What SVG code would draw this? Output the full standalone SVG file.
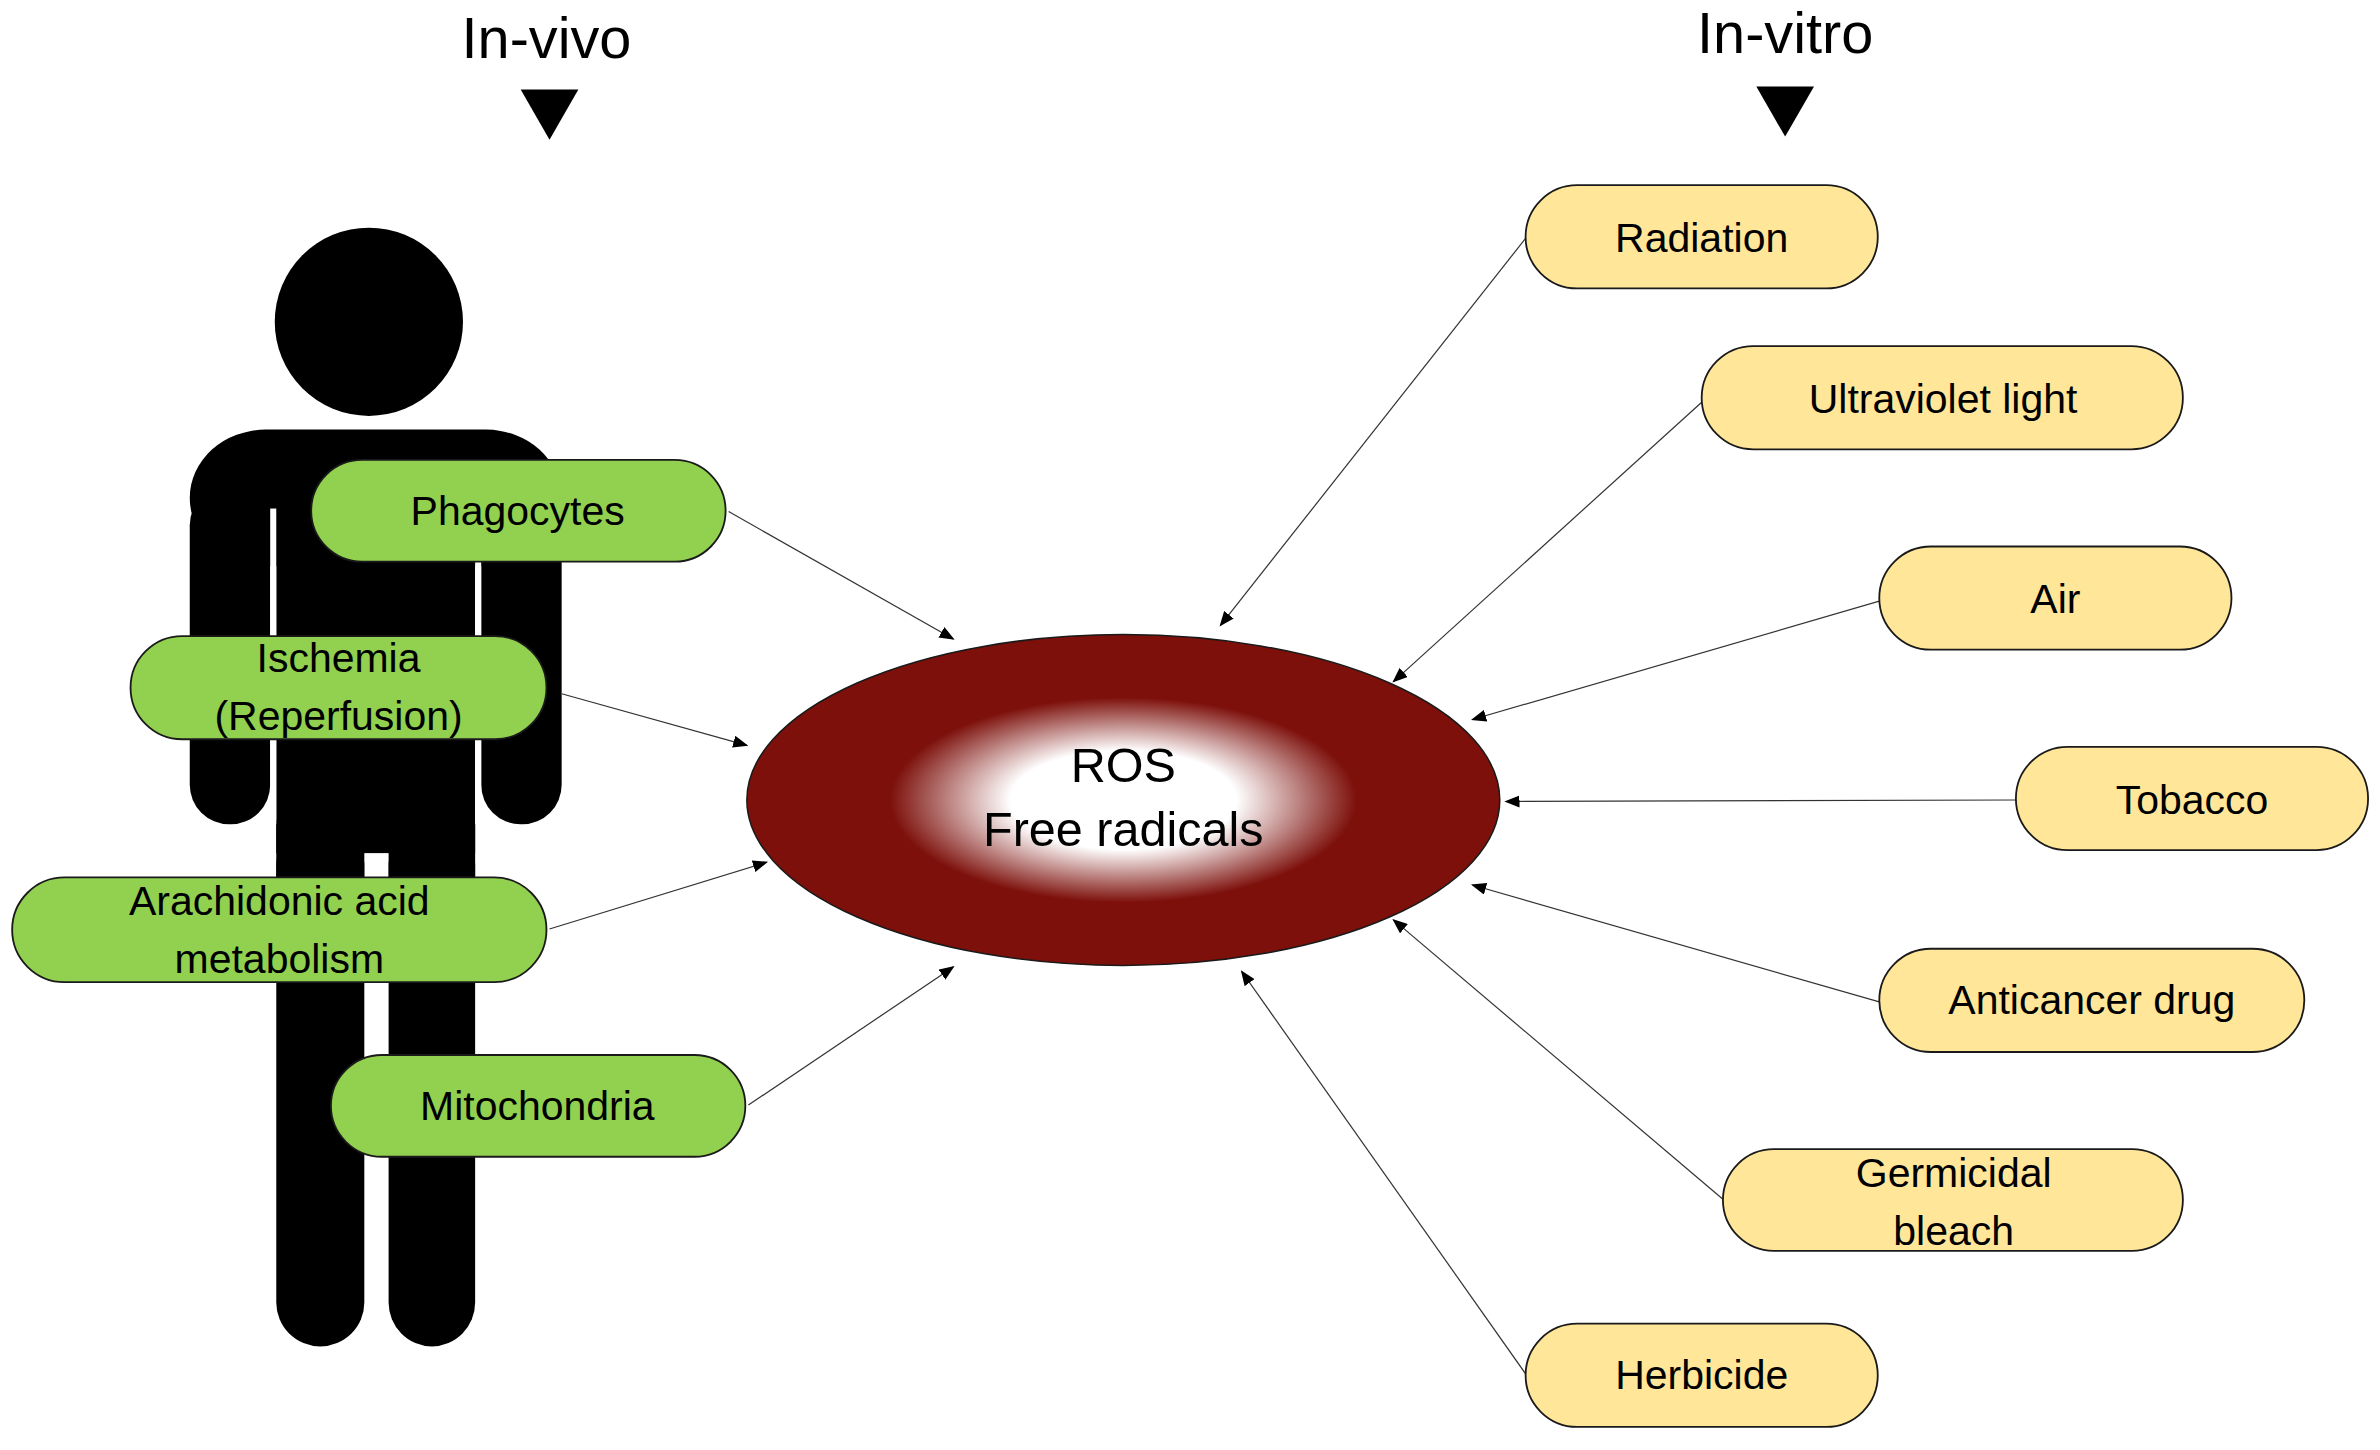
<svg xmlns="http://www.w3.org/2000/svg" width="2380" height="1450" viewBox="0 0 2380 1450">
<defs>
<radialGradient id="g" cx="0.5" cy="0.5" r="0.5">
<stop offset="0" stop-color="#ffffff"/><stop offset="0.3" stop-color="#ffffff"/><stop offset="0.62" stop-color="#7d100b"/><stop offset="1" stop-color="#7d100b"/>
</radialGradient>
<marker id="a" markerWidth="10" markerHeight="8" refX="9" refY="4" orient="auto" markerUnits="userSpaceOnUse"><path d="M0,0 L10,4 L0,8 z" fill="#000"/></marker>
<style>
.t{font-family:"Liberation Sans",Arial,sans-serif;fill:#000;text-anchor:middle}
.gn{fill:#92d050;stroke:#1a1a1a;stroke-width:1.2}
.yn{fill:#ffe699;stroke:#1a1a1a;stroke-width:1.2}
.c{stroke:#333;stroke-width:0.8;fill:none;marker-end:url(#a)}
</style>
</defs>
<rect width="2380" height="1450" fill="#fff"/>
<g transform="scale(1.518)">
<g id="titles">
<text class="t" x="360" y="38" font-size="38">In-vivo</text>
<path d="M343,59 H381 L362,92 z" fill="#000"/>
<text class="t" x="1176" y="35" font-size="38">In-vitro</text>
<path d="M1157,57 H1195 L1176,90 z" fill="#000"/>
</g>
<g id="figure" fill="#000">
<circle cx="243" cy="212" r="62"/>
<rect x="125" y="283" width="245" height="90" rx="50"/>
<rect x="125" y="320" width="53" height="223" rx="26"/>
<rect x="317" y="320" width="53" height="223" rx="26"/>
<rect x="182" y="300" width="131" height="262"/>
<rect x="182" y="540" width="58" height="347" rx="29"/>
<rect x="182" y="540" width="58" height="60"/>
<rect x="256" y="540" width="57" height="347" rx="29"/>
<rect x="256" y="540" width="57" height="60"/>
<rect x="178" y="335" width="4" height="208" fill="#fff"/>
<rect x="313" y="335" width="4" height="208" fill="#fff"/>
</g>
<g id="connectors">
<line class="c" x1="480" y1="337" x2="628" y2="421"/>
<line class="c" x1="370" y1="457" x2="492" y2="491"/>
<line class="c" x1="362" y1="612" x2="505" y2="568"/>
<line class="c" x1="493" y1="728" x2="628" y2="637"/>
<line class="c" x1="1005" y1="157" x2="804" y2="412"/>
<line class="c" x1="1121" y1="265" x2="918" y2="449"/>
<line class="c" x1="1238" y1="396" x2="970" y2="474"/>
<line class="c" x1="1328" y1="527" x2="992" y2="528"/>
<line class="c" x1="1238" y1="660" x2="970" y2="583"/>
<line class="c" x1="1135" y1="790" x2="918" y2="606"/>
<line class="c" x1="1005" y1="905" x2="818" y2="640"/>
</g>
<g id="ros">
<ellipse cx="740" cy="527" rx="248" ry="109" fill="url(#g)" stroke="#1a1a1a" stroke-width="1"/>
<text class="t" x="740" y="515" font-size="32">ROS</text>
<text class="t" x="740" y="557" font-size="32">Free radicals</text>
</g>
<g id="phagocytes"><rect class="gn" x="205" y="303" width="273" height="67" rx="33.5"/><text class="t" x="341" y="346" font-size="27">Phagocytes</text></g>
<g id="ischemia"><rect class="gn" x="86" y="419" width="274" height="68" rx="34"/><text class="t" x="223" y="443" font-size="27">Ischemia</text><text class="t" x="223" y="481" font-size="27">(Reperfusion)</text></g>
<g id="arachidonic"><rect class="gn" x="8" y="578" width="352" height="69" rx="34.5"/><text class="t" x="184" y="603" font-size="27">Arachidonic acid</text><text class="t" x="184" y="641" font-size="27">metabolism</text></g>
<g id="mitochondria"><rect class="gn" x="218" y="695" width="273" height="67" rx="33.5"/><text class="t" x="354" y="738" font-size="27">Mitochondria</text></g>
<g id="radiation"><rect class="yn" x="1005" y="122" width="232" height="68" rx="34"/><text class="t" x="1121" y="166" font-size="27">Radiation</text></g>
<g id="uv"><rect class="yn" x="1121" y="228" width="317" height="68" rx="34"/><text class="t" x="1280" y="272" font-size="27">Ultraviolet light</text></g>
<g id="air"><rect class="yn" x="1238" y="360" width="232" height="68" rx="34"/><text class="t" x="1354" y="404" font-size="27">Air</text></g>
<g id="tobacco"><rect class="yn" x="1328" y="492" width="232" height="68" rx="34"/><text class="t" x="1444" y="536" font-size="27">Tobacco</text></g>
<g id="anticancer"><rect class="yn" x="1238" y="625" width="280" height="68" rx="34"/><text class="t" x="1378" y="668" font-size="27">Anticancer drug</text></g>
<g id="germicidal"><rect class="yn" x="1135" y="757" width="303" height="67" rx="33.5"/><text class="t" x="1287" y="782" font-size="27">Germicidal</text><text class="t" x="1287" y="820" font-size="27">bleach</text></g>
<g id="herbicide"><rect class="yn" x="1005" y="872" width="232" height="68" rx="34"/><text class="t" x="1121" y="915" font-size="27">Herbicide</text></g>
</g>
</svg>
